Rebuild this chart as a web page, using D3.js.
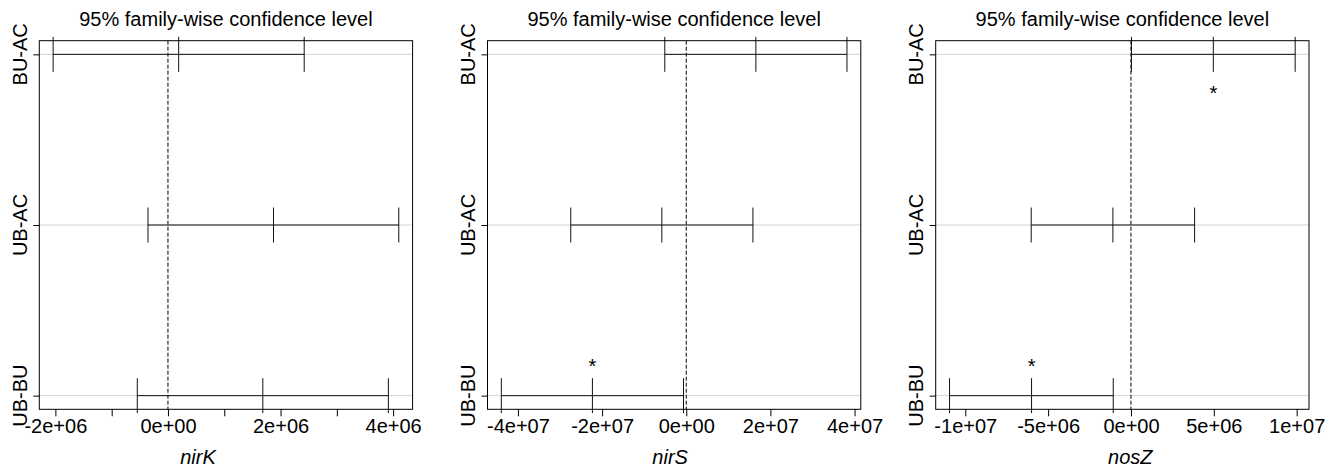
<!DOCTYPE html>
<html>
<head>
<meta charset="utf-8">
<script src="https://cdn.jsdelivr.net/npm/d3@7"></script>
<style>
  html, body { margin: 0; padding: 0; background: #fff; }
  svg { display: block; font-family: "Liberation Sans", Arial, sans-serif; }
</style>
</head>
<body>
<svg id="chart" width="1336" height="469"></svg>
<script>
// Tukey HSD pairwise comparisons (95% family-wise confidence) for three genes
const genes = ["nirK", "nirS", "nosZ"];
const comparisons = ["UB-BU", "UB-AC", "BU-AC"]; // bottom to top

// differences in means, lower and upper bounds, per gene, ordered as comparisons
const nirKDiff = [1.685e6, 1.875e6, 0.19e6];
const nirKLwr  = [-0.545e6, -0.355e6, -2.04e6];
const nirKUpr  = [3.915e6, 4.10e6, 2.42e6];

const nirSDiff = [-22.3e6, -5.8e6, 16.55e6];
const nirSLwr  = [-43.95e6, -27.45e6, -5.1e6];
const nirSUpr  = [-0.65e6, 15.85e6, 38.2e6];

const nosZDiff = [-6.0e6, -1.09e6, 4.97e6];
const nosZLwr  = [-10.95e6, -6.02e6, 0.03e6];
const nosZUpr  = [-1.07e6, 3.84e6, 9.91e6];

// significance marks: comparison index and whether the star sits above or below
const nirKStars = [];
const nirSStars = [{ i: 0, side: "above" }];
const nosZStars = [{ i: 0, side: "above" }, { i: 2, side: "below" }];

// axis ticks and which of them carry labels
const nirKTicks  = [-2e6, -1e6, 0, 1e6, 2e6, 3e6, 4e6];
const nirKLabels = [-2e6, 0, 2e6, 4e6];
const nirSTicks  = [-4e7, -2e7, 0, 2e7, 4e7];
const nirSLabels = [-4e7, -2e7, 0, 2e7, 4e7];
const nosZTicks  = [-1e7, -5e6, 0, 5e6, 1e7];
const nosZLabels = [-1e7, -5e6, 0, 5e6, 1e7];

const titleText = "95% family-wise confidence level";

const panels = [
  { gene: genes[0], diff: nirKDiff, lwr: nirKLwr, upr: nirKUpr, stars: nirKStars, ticks: nirKTicks, labels: nirKLabels, xlabShift: -28 },
  { gene: genes[1], diff: nirSDiff, lwr: nirSLwr, upr: nirSUpr, stars: nirSStars, ticks: nirSTicks, labels: nirSLabels, xlabShift: -4 },
  { gene: genes[2], diff: nosZDiff, lwr: nosZLwr, upr: nosZUpr, stars: nosZStars, ticks: nosZTicks, labels: nosZLabels, xlabShift: 8 }
];

// layout
const plotTop = 40.7, plotBottom = 409.3, plotWidth = 373.3;
const firstLeft = 39.3, panelStep = 448.2;
const fontSize = 20;

// R-style scientific label, e.g. -2e+06, 0e+00
function sci(v) {
  if (v === 0) return "0e+00";
  const exp = Math.floor(Math.log10(Math.abs(v)));
  const mant = Math.round(v / Math.pow(10, exp));
  const e = String(Math.abs(exp)).padStart(2, "0");
  return mant + "e" + (exp < 0 ? "-" : "+") + e;
}

const svg = d3.select("#chart");

panels.forEach((p, k) => {
  const left = firstLeft + k * panelStep;
  const right = left + plotWidth;

  // x domain: data extent padded by 4% on each side
  const lo = d3.min(p.lwr), hi = d3.max(p.upr);
  const pad = (hi - lo) * 0.04;
  const x = d3.scaleLinear().domain([lo - pad, hi + pad]).range([left, right]);

  // y: comparison index 1..n, padded by 4%
  const n = comparisons.length;
  const ypad = (n - 1) * 0.04;
  const y = d3.scaleLinear().domain([1 - ypad, n + ypad]).range([plotBottom, plotTop]);

  const g = svg.append("g");

  // light grey guide line at each comparison
  g.selectAll("line.guide").data(comparisons).enter().append("line")
    .attr("class", "guide")
    .attr("x1", left).attr("x2", right)
    .attr("y1", (d, i) => y(i + 1)).attr("y2", (d, i) => y(i + 1))
    .attr("stroke", "#d3d3d3").attr("stroke-width", 1);

  // zero reference line
  g.append("line")
    .attr("x1", x(0)).attr("x2", x(0))
    .attr("y1", plotTop).attr("y2", plotBottom)
    .attr("stroke", "#000").attr("stroke-width", 1)
    .attr("stroke-dasharray", "4,2");

  // confidence interval segments with end and centre caps
  const rows = comparisons.map((c, i) => ({ c, i, diff: p.diff[i], lwr: p.lwr[i], upr: p.upr[i] }));
  const capHalf = (y(1) - y(1 + 0.1025)); // cap half-height in pixels
  rows.forEach(r => {
    const yy = y(r.i + 1);
    g.append("line")
      .attr("x1", x(r.lwr)).attr("x2", x(r.upr))
      .attr("y1", yy).attr("y2", yy)
      .attr("stroke", "#111").attr("stroke-width", 1);
    [r.lwr, r.diff, r.upr].forEach(v => {
      g.append("line")
        .attr("x1", x(v)).attr("x2", x(v))
        .attr("y1", yy - capHalf).attr("y2", yy + capHalf)
        .attr("stroke", "#111").attr("stroke-width", 1);
    });
  });

  // significance stars
  p.stars.forEach(s => {
    const off = s.side === "above" ? 0.2 : -0.2;
    g.append("text")
      .attr("x", x(p.diff[s.i]))
      .attr("y", y(s.i + 1 + off) + 11.5)
      .attr("text-anchor", "middle")
      .attr("font-size", fontSize)
      .attr("fill", "#000")
      .text("*");
  });

  // plot frame
  g.append("rect")
    .attr("x", left).attr("y", plotTop)
    .attr("width", plotWidth).attr("height", plotBottom - plotTop)
    .attr("fill", "none").attr("stroke", "#000").attr("stroke-width", 1);

  // x axis
  const labelSet = new Set(p.labels);
  const xAxis = d3.axisBottom(x)
    .tickValues(p.ticks)
    .tickSizeInner(7).tickSizeOuter(0).tickPadding(3)
    .tickFormat(v => labelSet.has(v) ? sci(v) : "");
  const ax = g.append("g").attr("transform", `translate(0,${plotBottom})`).call(xAxis);
  ax.select(".domain").remove();
  ax.selectAll(".tick line").attr("stroke", "#000");
  ax.selectAll(".tick text")
    .attr("font-size", fontSize)
    .attr("font-family", "Liberation Sans, Arial, sans-serif")
    .attr("fill", "#000");

  // y axis ticks (labels drawn rotated below)
  const yAxis = d3.axisLeft(y)
    .tickValues(d3.range(1, n + 1))
    .tickSizeInner(6).tickSizeOuter(0)
    .tickFormat("");
  const ay = g.append("g").attr("transform", `translate(${left},0)`).call(yAxis);
  ay.select(".domain").remove();
  ay.selectAll(".tick line").attr("stroke", "#000");

  g.selectAll("text.ylab").data(comparisons).enter().append("text")
    .attr("class", "ylab")
    .attr("transform", (d, i) => `translate(${left - 12.8},${y(i + 1)}) rotate(-90)`)
    .attr("text-anchor", "middle")
    .attr("font-size", fontSize)
    .attr("fill", "#000")
    .text(d => d);

  // title
  g.append("text")
    .attr("x", (left + right) / 2).attr("y", 26)
    .attr("text-anchor", "middle")
    .attr("font-size", fontSize)
    .attr("fill", "#000")
    .text(titleText);

  // x axis label
  g.append("text")
    .attr("x", (left + right) / 2 + p.xlabShift).attr("y", 464)
    .attr("text-anchor", "middle")
    .attr("font-size", fontSize)
    .attr("font-style", "italic")
    .attr("fill", "#000")
    .text(p.gene);
});
</script>
</body>
</html>
